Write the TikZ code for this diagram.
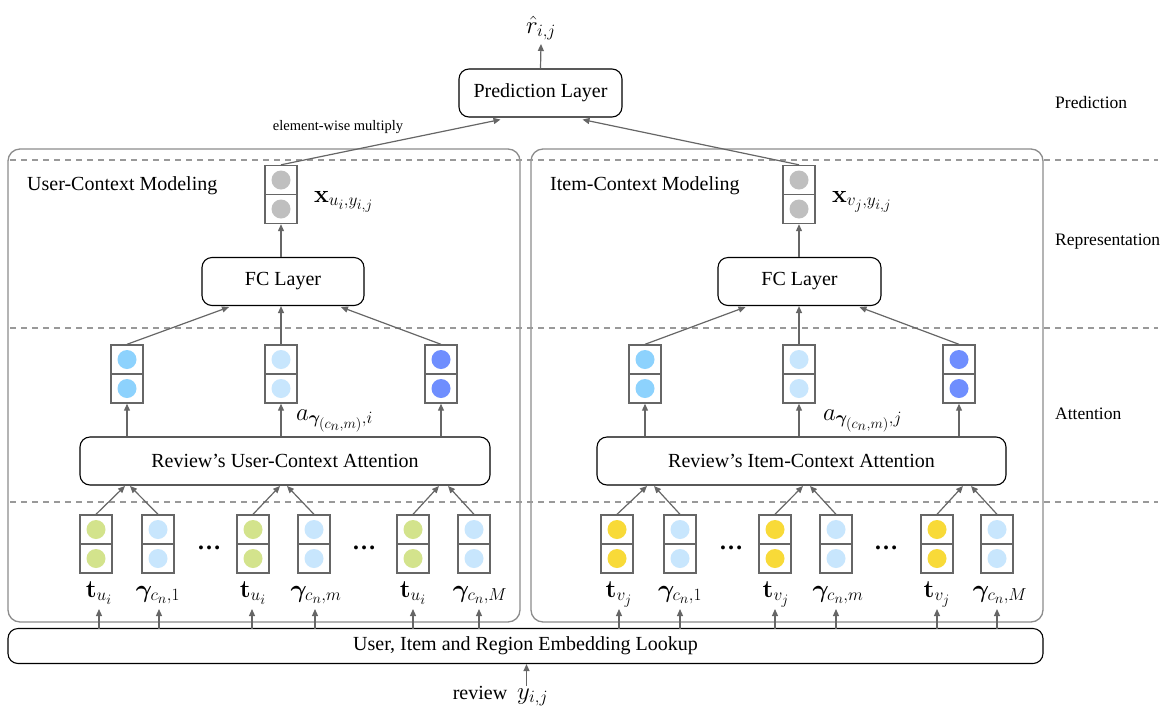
\documentclass[tikz,border=0pt]{standalone}
\usepackage{amsmath,bm}
\usepackage[no-math]{fontspec}
\setmainfont{Liberation Serif}
\usetikzlibrary{arrows.meta,calc}
% larger sub/superscripts for the 24pt formula labels
\DeclareMathSizes{24}{24}{18}{14}

\definecolor{linegray}{HTML}{666666}
\definecolor{framegray}{HTML}{8C8C8C}
\definecolor{dashgray}{HTML}{999999}
\definecolor{cgray}{HTML}{BFBFBF}
\definecolor{cskyblue}{HTML}{8DD2FD}
\definecolor{cpaleblue}{HTML}{C8E6FD}
\definecolor{croyal}{HTML}{6F8EFE}
\definecolor{cgreen}{HTML}{D3E38C}
\definecolor{cyellow}{HTML}{F8DA38}

\begin{document}
\begin{tikzpicture}[x=1pt,y=-1pt,
  every node/.style={font=\rmfamily\fontsize{20}{24}\selectfont},
  layer/.style={draw=black, line width=1.1pt, rounded corners=10pt, fill=white,
    minimum height=48pt, inner sep=2pt},
  module/.style={draw=framegray, line width=1.3pt, rounded corners=12pt},
  sepline/.style={dashgray, line width=1.6pt, dash pattern=on 6pt off 5pt},
  arr/.style={linegray, line width=1.2pt, -{Triangle[length=7pt,width=6pt]}},
  mathlbl/.style={font=\rmfamily\fontsize{24}{28}\selectfont, inner sep=0pt},
  sidelbl/.style={font=\rmfamily\fontsize{17.5}{21}\selectfont, anchor=west, inner sep=0pt},
  dotslbl/.style={font=\rmfamily\bfseries\fontsize{24}{28}\selectfont, inner sep=0pt},
  vecbox/.style={draw=linegray, line width=1.4pt, minimum width=32pt,
    minimum height=58pt, inner sep=0pt, fill=white,
    path picture={
      \draw[linegray, line width=1.4pt] (path picture bounding box.west) -- (path picture bounding box.east);
      \fill[#1] ([yshift=14.5pt]path picture bounding box.center) circle[radius=9.5pt];
      \fill[#1] ([yshift=-14.5pt]path picture bounding box.center) circle[radius=9.5pt];
    }},
]
\useasboundingbox (0,0) rectangle (1173,713);

% module frames
\draw[module] (8,149) rectangle (520,622);
\draw[module] (531,149) rectangle (1043,622);

% stage separators
\foreach \yy in {160,328,502}
  \draw[sepline] (10,\yy) -- (1158,\yy);

% stage names
\node[sidelbl] (sPred) at (1055,103) {Prediction};
\node[sidelbl] (sRep)  at (1055,242) {Representation};
\node[sidelbl] (sAtt)  at (1055,414) {Attention};

% module titles
\node[anchor=west, inner sep=0pt] (tUser) at (27,186) {User-Context Modeling};
\node[anchor=west, inner sep=0pt] (tItem) at (550,186) {Item-Context Modeling};

% prediction
\node[layer, minimum width=163pt] (pred) at (540.5,93) {Prediction Layer};
\node[mathlbl, anchor=base] (rhat) at (541,33) {$\hat{r}_{i,j}$};
\draw[arr] (pred.north) -- (541,44);
\node[font=\rmfamily\fontsize{14.5}{17}\selectfont] (ewm) at (338,127) {element-wise multiply};

% representation
\node[layer, minimum width=162pt] (fcU) at (283,281.5) {FC Layer};
\node[layer, minimum width=163pt] (fcI) at (799.5,281.5) {FC Layer};
\node[vecbox=cgray] (oU) at (281,194.5) {};
\node[vecbox=cgray] (oI) at (799,194.5) {};
\node[mathlbl, anchor=base west] (xU) at (314,202) {$\mathbf{x}_{u_i,y_{i,j}}$};
\node[mathlbl, anchor=base west] (xI) at (832,202) {$\mathbf{x}_{v_j,y_{i,j}}$};

\draw[arr] (fcU.north -| oU) -- (oU.south);
\draw[arr] (fcI.north -| oI) -- (oI.south);
\draw[arr] (oU.north) -- ([xshift=-40pt,yshift=-2pt]pred.south);
\draw[arr] (oI.north) -- ([xshift=42pt,yshift=-2pt]pred.south);

% attention
\node[layer, minimum width=410pt] (attU) at (285,461) {Review’s User-Context Attention};
\node[layer, minimum width=409pt] (attI) at (801.5,461) {Review’s Item-Context Attention};

\node[vecbox=cskyblue] (aU1) at (127,374) {};
\node[vecbox=cpaleblue] (aU2) at (281,374) {};
\node[vecbox=croyal] (aU3) at (441,374) {};
\node[vecbox=cskyblue] (aI1) at (645,374) {};
\node[vecbox=cpaleblue] (aI2) at (799,374) {};
\node[vecbox=croyal] (aI3) at (959,374) {};

\node[mathlbl, anchor=base west] (wU) at (296,420) {$a_{\bm{\gamma}_{(c_n,m)},i}$};
\node[mathlbl, anchor=base west] (wI) at (823,420) {$a_{\bm{\gamma}_{(c_n,m)},j}$};

\foreach \v in {aU1,aU2,aU3} \draw[arr] (attU.north -| \v) -- (\v.south);
\foreach \v in {aI1,aI2,aI3} \draw[arr] (attI.north -| \v) -- (\v.south);

\draw[arr] (aU1.north) -- ([xshift=-54pt,yshift=-1pt]fcU.south);
\draw[arr] (aU2.north) -- (fcU.south -| aU2);
\draw[arr] (aU3.north) -- ([xshift=58pt,yshift=-1pt]fcU.south);
\draw[arr] (aI1.north) -- ([xshift=-54pt,yshift=-1pt]fcI.south);
\draw[arr] (aI2.north) -- (fcI.south -| aI2);
\draw[arr] (aI3.north) -- ([xshift=60pt,yshift=-1pt]fcI.south);

% embedding inputs
\node[vecbox=cgreen]    (uT1) at (96,544) {};
\node[vecbox=cpaleblue] (uG1) at (158,544) {};
\node[vecbox=cgreen]    (uT2) at (253,544) {};
\node[vecbox=cpaleblue] (uG2) at (314,544) {};
\node[vecbox=cgreen]    (uT3) at (413,544) {};
\node[vecbox=cpaleblue] (uG3) at (474,544) {};
\node[vecbox=cyellow]   (iT1) at (617,544) {};
\node[vecbox=cpaleblue] (iG1) at (680,544) {};
\node[vecbox=cyellow]   (iT2) at (775,544) {};
\node[vecbox=cpaleblue] (iG2) at (836,544) {};
\node[vecbox=cyellow]   (iT3) at (937,544) {};
\node[vecbox=cpaleblue] (iG3) at (997,544) {};

\node[dotslbl] (uD1) at (209,548) {…};
\node[dotslbl] (uD2) at (364,548) {…};
\node[dotslbl] (iD1) at (731,548) {…};
\node[dotslbl] (iD2) at (886,548) {…};

\node[mathlbl, anchor=base] (luT1) at (99,597)  {$\mathbf{t}_{u_i}$};
\node[mathlbl, anchor=base] (luG1) at (158,597) {$\bm{\gamma}_{c_n,1}$};
\node[mathlbl, anchor=base] (luT2) at (253,597) {$\mathbf{t}_{u_i}$};
\node[mathlbl, anchor=base] (luG2) at (316,597) {$\bm{\gamma}_{c_n,m}$};
\node[mathlbl, anchor=base] (luT3) at (413,597) {$\mathbf{t}_{u_i}$};
\node[mathlbl, anchor=base] (luG3) at (480,597) {$\bm{\gamma}_{c_n,M}$};
\node[mathlbl, anchor=base] (liT1) at (619,597) {$\mathbf{t}_{v_j}$};
\node[mathlbl, anchor=base] (liG1) at (680,597) {$\bm{\gamma}_{c_n,1}$};
\node[mathlbl, anchor=base] (liT2) at (776,597) {$\mathbf{t}_{v_j}$};
\node[mathlbl, anchor=base] (liG2) at (838,597) {$\bm{\gamma}_{c_n,m}$};
\node[mathlbl, anchor=base] (liT3) at (937,597) {$\mathbf{t}_{v_j}$};
\node[mathlbl, anchor=base] (liG3) at (1000,597) {$\bm{\gamma}_{c_n,M}$};

% pairs feeding the attention layers
\draw[arr] (uT1.north) -- (125,486);  \draw[arr] (uG1.north) -- (130,486);
\draw[arr] (uT2.north) -- (280,486);  \draw[arr] (uG2.north) -- (287,486);
\draw[arr] (uT3.north) -- (439,486);  \draw[arr] (uG3.north) -- (448,486);
\draw[arr] (iT1.north) -- (647,486);  \draw[arr] (iG1.north) -- (654,486);
\draw[arr] (iT2.north) -- (803,486);  \draw[arr] (iG2.north) -- (810,486);
\draw[arr] (iT3.north) -- (963,486);  \draw[arr] (iG3.north) -- (971,486);

% lookup layer
\node[layer, minimum width=1035pt, minimum height=35pt] (emb) at (525.5,646)
  {User, Item and Region Embedding Lookup};
\foreach \x in {99,159,252,315,413,479,619,680,775,836,937,997}
  \draw[arr] (\x,629) -- (\x,609);

\node[anchor=base, inner sep=0pt] (rev) at (480,699) {review};
\node[mathlbl, anchor=base west] (yij) at (517,699) {$y_{i,j}$};
\draw[arr] (526.5,686) -- (emb.south -| 526.5,0);
\end{tikzpicture}
\end{document}
